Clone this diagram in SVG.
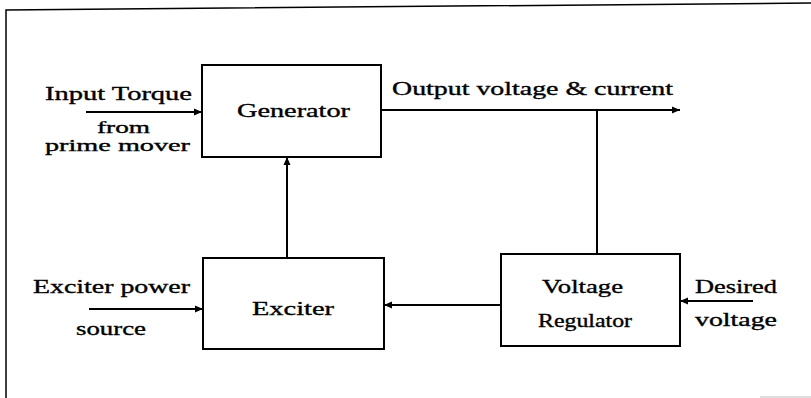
<svg xmlns="http://www.w3.org/2000/svg" width="811" height="398" viewBox="0 0 811 398">
<style>
.box{fill:#fff;stroke:#000;stroke-width:2}
.ln{fill:none;stroke:#000;stroke-width:2}
text{font-family:"Liberation Serif","Times New Roman",serif;font-size:19px;fill:#000;stroke:#000;stroke-width:0.35}
.sm{font-size:17px}
</style>
<defs>
<marker id="ah" viewBox="0 0 8 8" refX="8" refY="4" markerWidth="8" markerHeight="8" markerUnits="userSpaceOnUse" orient="auto">
<path d="M0,0.5 L8,4 L0,7.5 Z" fill="#000"/>
</marker>
</defs>
<rect width="811" height="398" fill="#fff"/>
<g id="frame">
<path d="M6,398 L6,10 L811,3" fill="none" stroke="#000" stroke-width="1.5"/>
<line x1="760" y1="397" x2="811" y2="397" stroke="#bbb" stroke-width="1"/>
</g>
<g id="connectors">
<line class="ln" x1="86" y1="112" x2="202" y2="112" marker-end="url(#ah)"/>
<line class="ln" x1="381" y1="110" x2="680" y2="110" marker-end="url(#ah)"/>
<line class="ln" x1="597" y1="110" x2="597" y2="254"/>
<line class="ln" x1="287" y1="258" x2="287" y2="157" marker-end="url(#ah)"/>
<line class="ln" x1="89" y1="309" x2="203" y2="309" marker-end="url(#ah)"/>
<line class="ln" x1="501" y1="305" x2="384" y2="305" marker-end="url(#ah)"/>
<line class="ln" x1="753" y1="301" x2="680" y2="301" marker-end="url(#ah)"/>
</g>
<g id="generator">
<rect class="box" x="202" y="65" width="179" height="92"/>
<text x="237" y="117" textLength="113" lengthAdjust="spacingAndGlyphs">Generator</text>
</g>
<g id="exciter">
<rect class="box" x="203" y="258" width="181" height="91"/>
<text x="252" y="315" textLength="82" lengthAdjust="spacingAndGlyphs">Exciter</text>
</g>
<g id="voltage-regulator">
<rect class="box" x="501" y="254" width="179" height="92"/>
<text x="542" y="293" textLength="81" lengthAdjust="spacingAndGlyphs">Voltage</text>
<text x="538" y="327" textLength="94" lengthAdjust="spacingAndGlyphs">Regulator</text>
</g>
<g id="labels">
<text x="45" y="100" textLength="147" lengthAdjust="spacingAndGlyphs">Input Torque</text>
<text class="sm" x="97" y="133" textLength="53" lengthAdjust="spacingAndGlyphs">from</text>
<text class="sm" x="45" y="151" textLength="145" lengthAdjust="spacingAndGlyphs">prime mover</text>
<text x="392" y="95" textLength="281" lengthAdjust="spacingAndGlyphs">Output voltage &amp; current</text>
<text x="33" y="293" textLength="157" lengthAdjust="spacingAndGlyphs">Exciter power</text>
<text x="76" y="335" textLength="70" lengthAdjust="spacingAndGlyphs">source</text>
<text x="695" y="293" textLength="82" lengthAdjust="spacingAndGlyphs">Desired</text>
<text x="695" y="326" textLength="82" lengthAdjust="spacingAndGlyphs">voltage</text>
</g>
</svg>
